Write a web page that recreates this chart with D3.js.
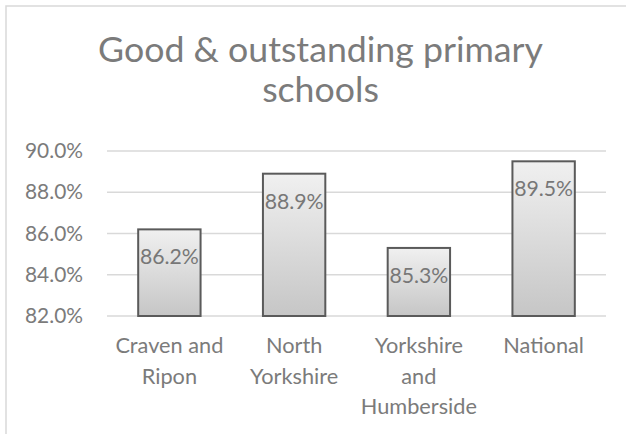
<!DOCTYPE html>
<html>
<head>
<meta charset="utf-8">
<script src="https://cdn.jsdelivr.net/npm/d3@7"></script>
<style>
  html, body { margin: 0; padding: 0; background: #fff; }
  svg { display: block; }
</style>
</head>
<body>
<script>
// ---- data ----
const categories = [["Craven and", "Ripon"], ["North", "Yorkshire"], ["Yorkshire", "and", "Humberside"], ["National"]];
const values = [86.2, 88.9, 85.3, 89.5];
const valueLabels = ["86.2%", "88.9%", "85.3%", "89.5%"];
const yTicks = [82, 84, 86, 88, 90];
const titleLines = ["Good & outstanding primary", "schools"];

const W = 626, H = 434;
const FONT = "Lato, 'Open Sans', sans-serif";
const TXT = "#7b7b7b";

const svg = d3.select("body").append("svg").attr("width", W).attr("height", H);

// font fitting helper
function fitSize(str, target) {
  const t = svg.append("text").attr("font-family", FONT).attr("font-size", 100).text(str);
  const w = t.node().getComputedTextLength();
  t.remove();
  return 100 * target / w;
}
const titleSize = fitSize(titleLines[0], 445);
const catSize = fitSize("Craven and", 108);
const tickSize = fitSize("90.0%", 58);
const valSize = fitSize("86.2%", 59);

// frame
svg.append("rect").attr("x", 6).attr("y", 6).attr("width", W + 20).attr("height", H + 20)
  .attr("fill", "#fff").attr("stroke", "#d9d9d9").attr("stroke-width", 1.5);

// gradient
const defs = svg.append("defs");
const grad = defs.append("linearGradient").attr("id", "barGrad").attr("x1", 0).attr("y1", 0).attr("x2", 0).attr("y2", 1);
grad.append("stop").attr("offset", "0%").attr("stop-color", "#f0f0f0");
grad.append("stop").attr("offset", "100%").attr("stop-color", "#c6c6c6");

// scales
const x = d3.scaleBand().domain(d3.range(categories.length)).range([107, 606]).paddingInner(0.5).paddingOuter(0.25);
const y = d3.scaleLinear().domain([82, 90]).range([316, 151]);

// gridlines
svg.append("g").selectAll("line").data(yTicks).join("line")
  .attr("x1", 107).attr("x2", 606)
  .attr("y1", d => y(d)).attr("y2", d => y(d))
  .attr("stroke", "#d9d9d9").attr("stroke-width", 1.5);

// y tick labels
svg.append("g").selectAll("text").data(yTicks).join("text")
  .attr("x", 83).attr("y", d => y(d) + 7)
  .attr("text-anchor", "end").attr("font-family", FONT).attr("font-size", tickSize)
  .attr("fill", TXT).text(d => d3.format(".1f")(d) + "%");

// bars
svg.append("g").selectAll("rect").data(values).join("rect")
  .attr("x", (d, i) => x(i)).attr("width", x.bandwidth())
  .attr("y", d => y(d)).attr("height", d => y(82) - y(d))
  .attr("fill", "url(#barGrad)").attr("stroke", "#5a5a5a").attr("stroke-width", 2);

// value labels
svg.append("g").selectAll("text").data(values).join("text")
  .attr("x", (d, i) => x(i) + x.bandwidth() / 2).attr("y", d => y(d) + 35)
  .attr("text-anchor", "middle").attr("font-family", FONT).attr("font-size", valSize)
  .attr("fill", "#777").text((d, i) => valueLabels[i]);

// category labels
const cat = svg.append("g").selectAll("text").data(categories).join("text")
  .attr("text-anchor", "middle").attr("font-family", FONT).attr("font-size", catSize)
  .attr("fill", TXT);
cat.each(function(lines, i) {
  d3.select(this).selectAll("tspan").data(lines).join("tspan")
    .attr("x", x(i) + x.bandwidth() / 2)
    .attr("y", (l, j) => y(82) + 37 + j * 30.5)
    .text(l => l);
});

// title
svg.append("g").selectAll("text").data(titleLines).join("text")
  .attr("x", 320.5).attr("y", (d, i) => 62 + i * 40)
  .attr("text-anchor", "middle").attr("font-family", FONT).attr("font-size", titleSize)
  .attr("fill", TXT).text(d => d);
</script>
</body>
</html>
